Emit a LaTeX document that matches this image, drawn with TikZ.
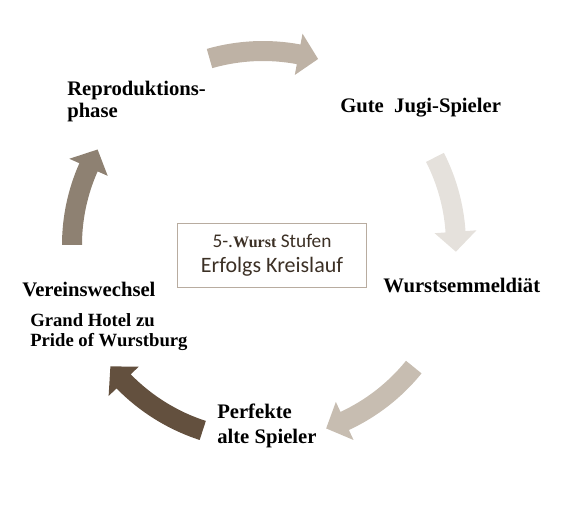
\documentclass[tikz,border=0pt]{standalone}
\usepackage{fontspec}
\setmainfont{Liberation Serif}
\newfontfamily\calibrifont{Carlito}
\usetikzlibrary{positioning}

\definecolor{arrowtop}{RGB}{190,178,165}
\definecolor{arrowright}{RGB}{229,225,220}
\definecolor{arrowbr}{RGB}{199,189,177}
\definecolor{arrowbl}{RGB}{99,80,62}
\definecolor{arrowleft}{RGB}{142,129,114}
\definecolor{boxline}{RGB}{184,172,160}
\definecolor{boxtext}{RGB}{60,48,37}

\begin{document}
\begin{tikzpicture}[
        x=0.75pt,
        y=0.75pt,
        stage/.style={font=\fontsize{15.5}{16.5}\selectfont\bfseries, inner sep=0pt, align=left},
        stage small/.style={font=\fontsize{14}{15}\selectfont\bfseries, inner sep=0pt, align=left},
        title box/.style={draw=boxline, line width=0.75pt, text=boxtext, align=center,
            minimum width=142pt, minimum height=48pt, inner sep=0pt,
            font=\calibrifont\fontsize{16.5}{18.75}\selectfont},
    ]
    \useasboundingbox (0,0) rectangle (561,522);
    % CYCLE ARROWS (tail angle / tip angle / radius / colour)
    \begin{scope}[shift={(263,277)}]
        \foreach \s/\e/\r/\col in {106/73.5/194/arrowtop, 27/-2/193/arrowright,
                -39/-71/194/arrowbr, -108/-141.5/195/arrowbl, 180/150/191/arrowleft} {
            \pgfmathsetmacro{\h}{\e+20/\r*57.3}
            \pgfmathsetmacro{\ro}{\r+10} \pgfmathsetmacro{\ri}{\r-10}
            \pgfmathsetmacro{\rho}{\r+21} \pgfmathsetmacro{\rhi}{\r-21}
            \fill[\col] (\s:\ro) arc[start angle=\s, end angle=\h, radius=\ro]
                -- (\h:\rho) -- (\e:\r) -- (\h:\rhi) -- (\h:\ri)
                arc[start angle=\h, end angle=\s, radius=\ri] -- cycle;
        }
    \end{scope}
    % CENTRE BOX
    \node[title box] (title) at (272,266.5)
        {{\fontsize{14.5}{16}\selectfont 5-.{\rmfamily\bfseries\fontsize{12}{13}\selectfont Wurst} Stufen}\\Erfolgs Kreislauf};
    % STAGE LABELS
    \node[stage, anchor=north west] (repro) at (67,441) {Reproduktions-\\phase};
    \node[stage, anchor=base west] (gute) at (340,409) {Gute\ \ Jugi-Spieler};
    \node[stage, anchor=base west] (wurst) at (383,229) {Wurstsemmeldiät};
    \node[stage, anchor=north west, font=\fontsize{15.5}{18.75}\selectfont\bfseries] (perfekte) at (217,118) {Perfekte\\alte Spieler};
    \node[stage, anchor=base west] (verein) at (22,225) {Vereinswechsel};
    \node[stage small, anchor=north west] (hotel) at (30,209) {Grand Hotel zu\\Pride of Wurstburg};
\end{tikzpicture}
\end{document}
